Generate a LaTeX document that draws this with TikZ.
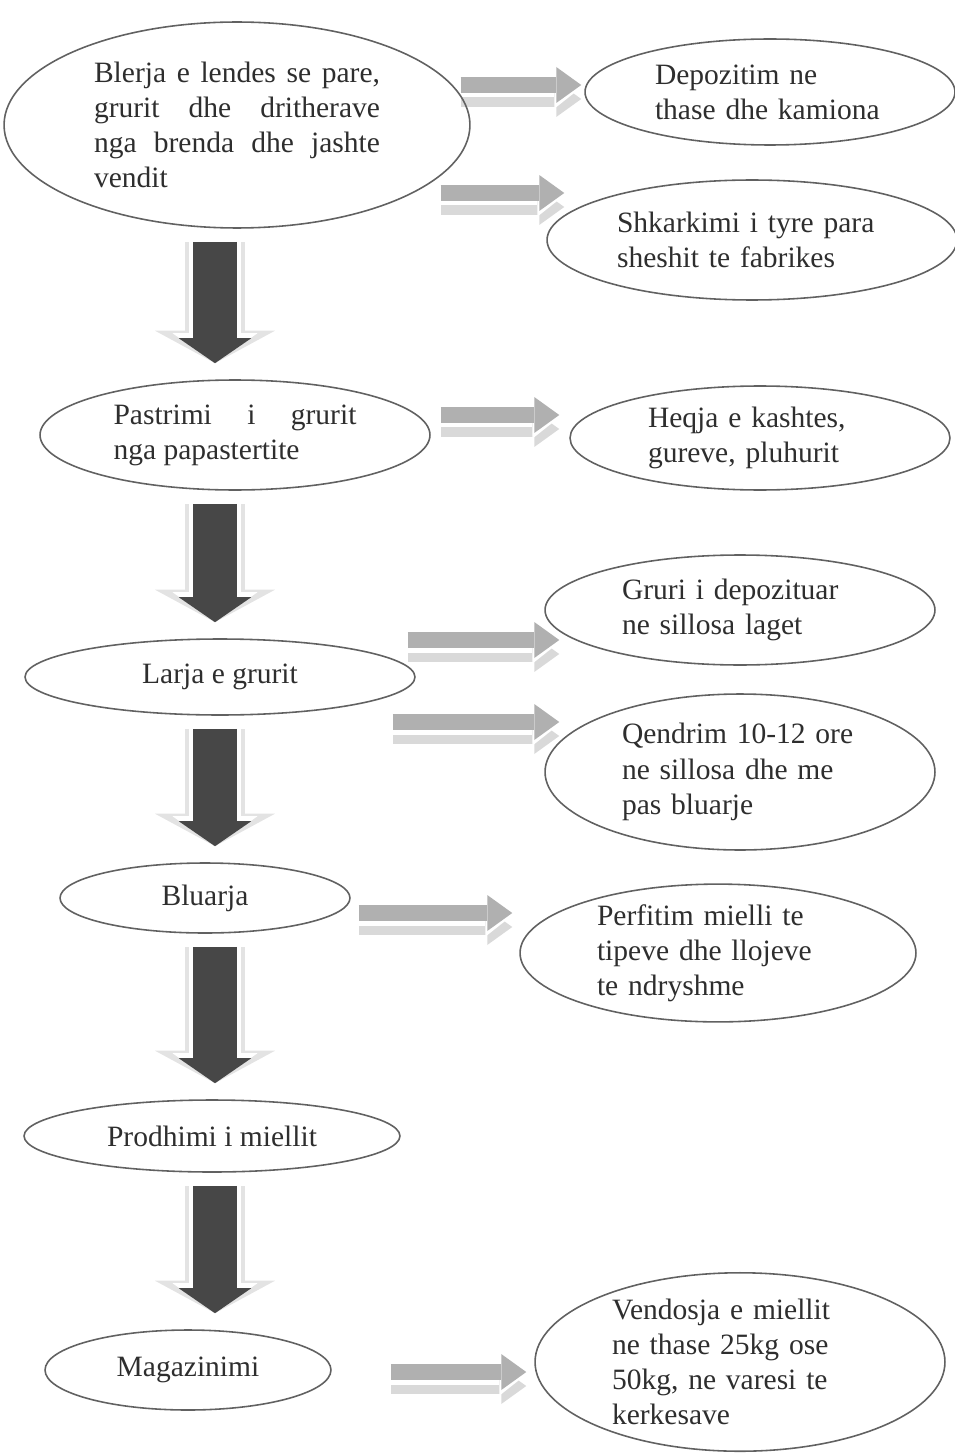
\documentclass[tikz,border=0pt]{standalone}
\usepackage{fontspec}
\setmainfont{Liberation Serif}
\usetikzlibrary{shapes.geometric,arrows.meta,calc,backgrounds}
\tikzset{
    stage-oval/.style 2 args = {draw=black!62, line width=0.9pt, ellipse, inner sep=0pt, minimum width=#1*0.4mm, minimum height=#2*0.4mm, text=black!82, font=\fontsize{16.8}{20}\selectfont},
    side-arrow/.style = {draw=gray!62, line width=0.32cm, -{Triangle[length=0.5cm, width=0.72cm, line width=0pt]}},
    side-halo/.style = {draw=white, line width=0.5cm, -{Triangle[length=0.6cm, width=0.95cm, line width=0pt]}},
    side-shadow/.style = {draw=gray!30, line width=0.32cm, -{Triangle[length=0.5cm, width=0.72cm, line width=0pt]}, xshift=-0.08cm, yshift=-0.28cm},
    down-arrow/.style = {draw=black!72, line width=0.9cm, -{Triangle[length=0.5cm, width=1.45cm, line width=0pt]}},
    down-halo/.style = {draw=white, line width=1.05cm, -{Triangle[length=0.6cm, width=1.7cm, line width=0pt]}},
    down-shadow/.style = {draw=gray!22, line width=1.2cm, -{Triangle[length=0.65cm, width=2.4cm, line width=0pt]}, xshift=0.18cm, yshift=-0.16cm},
}
\begin{document}
\begin{tikzpicture}[x=0.02cm, y=-0.02cm]
\path[use as bounding box] (0,0) rectangle (954,1456);

% main column
\node[stage-oval={233}{103}, text width=5.72cm, align=justify] (blerja) at (237,125) {Blerja e lendes se pare,\linebreak grurit dhe dritherave\linebreak nga brenda dhe jashte\linebreak vendit};
\node[stage-oval={195}{55}, text width=4.86cm, align=justify] (pastrimi) at (235,435) {Pastrimi i grurit\linebreak nga papastertite};
\node[stage-oval={195}{38}] (larja) at (220,677) {Larja e grurit};
\node[stage-oval={145}{35}] (bluarja) at (205,898) {Bluarja};
\node[stage-oval={188}{36}] (prodhimi) at (212,1136) {Prodhimi i miellit};
\node[stage-oval={143}{40}] (magazinimi) at (188,1370) {Magazinimi};

% side column
\node[stage-oval={185}{53}, text width=4.6cm, align=left] (depozitim) at (770,92) {Depozitim ne\\thase dhe kamiona};
\node[stage-oval={205}{60}, text width=5.4cm, align=left] (shkarkimi) at (752,240) {Shkarkimi i tyre para\\sheshit te fabrikes};
\node[stage-oval={190}{52}, text width=4.48cm, align=left] (heqja) at (760,438) {Heqja e kashtes,\\gureve, pluhurit};
\node[stage-oval={195}{55}, text width=4.72cm, align=left] (gruri) at (740,610) {Gruri i depozituar\\ne sillosa laget};
\node[stage-oval={195}{78}, text width=4.72cm, align=left] (qendrim) at (740,772) {Qendrim 10-12 ore\\ne sillosa dhe me\\pas bluarje};
\node[stage-oval={198}{67}, text width=4.84cm, align=left] (perfitim) at (718,953) {Perfitim mielli te\\tipeve dhe llojeve\\te ndryshme};
\node[stage-oval={205}{88}, text width=5.12cm, align=left] (vendosja) at (740,1362) {Vendosja e miellit\\ne thase 25kg ose\\50kg, ne varesi te\\kerkesave};

\coordinate (col) at (215,0);

\begin{scope}[on background layer]
% down arrows
\foreach \a/\b in {blerja/pastrimi, pastrimi/larja, larja/bluarja, bluarja/prodhimi, prodhimi/magazinimi}{
    \draw[down-shadow] ($(col |- \a.south)+(0,13)$) -- ($(col |- \b.north)+(0,-16)$);
    \draw[down-halo] ($(col |- \a.south)+(0,10)$) -- ($(col |- \b.north)+(0,-16)$);
    \draw[down-arrow] ($(col |- \a.south)+(0,13)$) -- ($(col |- \b.north)+(0,-16)$);
}
% side arrows
\foreach \a/\b/\y/\s/\e in {blerja/depozitim/85/-10/-3, blerja/shkarkimi/193/-30/18, pastrimi/heqja/415/10/-10, larja/gruri/640/-8/15, larja/qendrim/722/-23/15, bluarja/perfitim/913/8/-7, magazinimi/vendosja/1372/59/-8}{
    \draw[side-shadow] ($(\a.east |- 0,\y)+(\s,0)$) -- ($(\b.west |- 0,\y)+(\e,0)$);
    \draw[side-halo] ($(\a.east |- 0,\y)+(\s-4,0)$) -- ($(\b.west |- 0,\y)+(\e+3,0)$);
    \draw[side-arrow] ($(\a.east |- 0,\y)+(\s,0)$) -- ($(\b.west |- 0,\y)+(\e,0)$);
}
\end{scope}
\end{tikzpicture}
\end{document}
